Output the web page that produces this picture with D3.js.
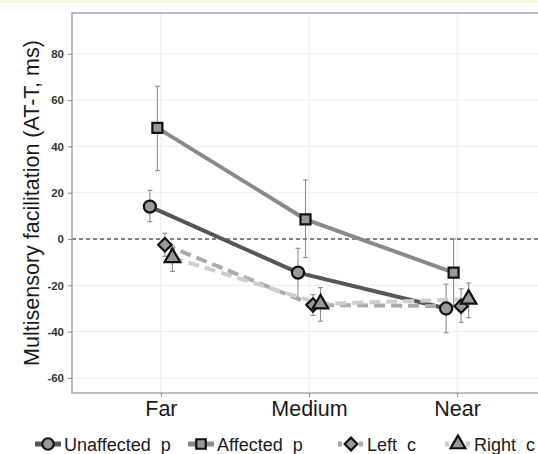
<!DOCTYPE html>
<html lang="en">

<head>
    <meta charset="utf-8">
    <script src='https://d3js.org/d3.v7.min.js'></script>
    <style>
        body { margin: 0; background: #fff; }
        text { font-family: "Liberation Sans", Arial, sans-serif; }
    </style>
</head>

<body>

    <script>

        // data
        const categories = ["Far", "Medium", "Near"];
        const seriesNames = ["Unaffected_p", "Affected_p", "Left_c", "Right_c"];

        const unaffectedMean = [14, -14.5, -30];
        const unaffectedLow = [7.5, -25.5, -40.5];
        const unaffectedHigh = [21, -4, -19.5];

        const affectedMean = [48, 8.5, -14.5];
        const affectedLow = [29.5, -8, -29];
        const affectedHigh = [66, 25.5, 0];

        const leftMean = [-2.5, -28.5, -29];
        const leftLow = [-7.5, -33, -36];
        const leftHigh = [2.5, -24, -21.5];

        const rightMean = [-8, -28, -26];
        const rightLow = [-14, -35.5, -34];
        const rightHigh = [-3, -21, -19];

        const yTicks = [-60, -40, -20, 0, 20, 40, 60, 80];

        const width = 538, height = 454;
        const panel = { left: 72, top: 13, right: 546, bottom: 393 };

        const svg = d3.select("body")
            .append("svg")
            .attr("width", width)
            .attr("height", height);

        // thin yellow strip at the very top of the image
        svg.append("rect")
            .attr("x", 0).attr("y", 0)
            .attr("width", width).attr("height", 3)
            .attr("fill", "#fcf5df");

        var x = d3.scalePoint()
            .domain(categories)
            .range([panel.left, panel.right])
            .padding(0.6);

        var dodge = d3.scalePoint()
            .domain(seriesNames)
            .range([-11, 11.5]);

        var y = d3.scaleLinear()
            .domain([-66.5, 97.6])
            .range([panel.bottom, panel.top]);

        // diamond as a square turned 45 degrees (d3's own diamond is too tall)
        var diamond = {
            draw: function (context, size) {
                var r = Math.sqrt(size / 2);
                context.moveTo(0, -r);
                context.lineTo(r, 0);
                context.lineTo(0, r);
                context.lineTo(-r, 0);
                context.closePath();
            }
        };

        var series = [
            { name: "Unaffected_p", mean: unaffectedMean, low: unaffectedLow, high: unaffectedHigh,
              color: "#575757", dash: null, shape: d3.symbolCircle, size: 115 },
            { name: "Affected_p", mean: affectedMean, low: affectedLow, high: affectedHigh,
              color: "#8a8a8a", dash: null, shape: d3.symbolSquare, size: 100 },
            { name: "Left_c", mean: leftMean, low: leftLow, high: leftHigh,
              color: "#ababab", dash: "11,6", shape: diamond, size: 90 },
            { name: "Right_c", mean: rightMean, low: rightLow, high: rightHigh,
              color: "#cdcdcd", dash: "11,6", shape: d3.symbolTriangle, size: 105 }
        ];

        svg.append("clipPath").attr("id", "panel-clip")
            .append("rect")
            .attr("x", panel.left).attr("y", panel.top)
            .attr("width", panel.right - panel.left)
            .attr("height", panel.bottom - panel.top);

        // grid
        svg.append("g")
            .selectAll("line")
            .data(yTicks)
            .enter()
            .append("line")
            .attr("x1", panel.left).attr("x2", panel.right)
            .attr("y1", d => y(d)).attr("y2", d => y(d))
            .attr("stroke", "#ececec")
            .attr("stroke-width", 1);

        svg.append("g")
            .selectAll("line")
            .data(categories)
            .enter()
            .append("line")
            .attr("x1", d => x(d)).attr("x2", d => x(d))
            .attr("y1", panel.top).attr("y2", panel.bottom)
            .attr("stroke", "#ececec")
            .attr("stroke-width", 1);

        // zero reference
        svg.append("line")
            .attr("x1", panel.left).attr("x2", panel.right)
            .attr("y1", y(0)).attr("y2", y(0))
            .attr("stroke", "#111")
            .attr("stroke-width", 1)
            .attr("stroke-dasharray", "4,3");

        var plot = svg.append("g").attr("clip-path", "url(#panel-clip)");

        function px(s, i) { return x(categories[i]) + dodge(s.name); }

        // error bars
        series.forEach(function (s) {
            var g = plot.append("g")
                .attr("stroke", "#8c8c8c")
                .attr("stroke-width", 1.1);
            g.selectAll(".v")
                .data(categories)
                .enter()
                .append("line")
                .attr("x1", (d, i) => px(s, i)).attr("x2", (d, i) => px(s, i))
                .attr("y1", (d, i) => y(s.low[i])).attr("y2", (d, i) => y(s.high[i]));
            ["low", "high"].forEach(function (k) {
                g.selectAll(".c" + k)
                    .data(categories)
                    .enter()
                    .append("line")
                    .attr("x1", (d, i) => px(s, i) - 2.5).attr("x2", (d, i) => px(s, i) + 2.5)
                    .attr("y1", (d, i) => y(s[k][i])).attr("y2", (d, i) => y(s[k][i]));
            });
        });

        // lines
        var line = d3.line();
        series.forEach(function (s) {
            plot.append("path")
                .attr("d", line(categories.map((c, i) => [px(s, i), y(s.mean[i])])))
                .attr("fill", "none")
                .attr("stroke", s.color)
                .attr("stroke-width", 4)
                .attr("stroke-dasharray", s.dash);
        });

        // points
        series.forEach(function (s) {
            plot.append("g")
                .selectAll("path")
                .data(categories)
                .enter()
                .append("path")
                .attr("transform", (d, i) => "translate(" + px(s, i) + "," + y(s.mean[i]) + ")")
                .attr("d", d3.symbol().type(s.shape).size(s.size))
                .attr("fill", "#999")
                .attr("stroke", "#111")
                .attr("stroke-width", 2.2);
        });

        // panel border
        svg.append("rect")
            .attr("x", panel.left).attr("y", panel.top)
            .attr("width", panel.right - panel.left)
            .attr("height", panel.bottom - panel.top)
            .attr("fill", "none")
            .attr("stroke", "#9a9a9a")
            .attr("stroke-width", 1.3);

        // axes
        var yAxis = svg.append("g")
            .attr("transform", "translate(" + panel.left + ",0)")
            .call(d3.axisLeft(y).tickValues(yTicks).tickSize(4).tickPadding(4)
                .tickFormat(d => String(d)));
        yAxis.select(".domain").remove();
        yAxis.selectAll("line").attr("stroke", "#888");
        yAxis.selectAll("text")
            .attr("font-size", 11.5)
            .attr("font-weight", "bold")
            .attr("fill", "#333");

        var xAxis = svg.append("g")
            .attr("transform", "translate(0," + panel.bottom + ")")
            .call(d3.axisBottom(x).tickSize(4).tickPadding(4));
        xAxis.select(".domain").remove();
        xAxis.selectAll("line").attr("stroke", "#888");
        xAxis.selectAll("text")
            .attr("font-size", 21.5)
            .attr("fill", "#1a1a1a");

        svg.append("text")
            .attr("transform", "translate(39," + ((panel.top + panel.bottom) / 2) + ") rotate(-90)")
            .attr("text-anchor", "middle")
            .attr("font-size", 21.5)
            .attr("fill", "#1a1a1a")
            .text("Multisensory facilitation (AT-T, ms)");

        // legend
        var legendX = [35, 188, 338, 445];
        var legendY = 444;
        series.forEach(function (s, i) {
            var g = svg.append("g").attr("transform", "translate(" + legendX[i] + "," + legendY + ")");
            g.append("line")
                .attr("x1", 0).attr("x2", 26)
                .attr("y1", 0).attr("y2", 0)
                .attr("stroke", s.color)
                .attr("stroke-width", 5)
                .attr("stroke-dasharray", s.dash ? "4,3" : null);
            g.append("path")
                .attr("transform", "translate(13,0)")
                .attr("d", d3.symbol().type(s.shape).size(s.size * 0.9))
                .attr("fill", "#999")
                .attr("stroke", "#111")
                .attr("stroke-width", 2.2);
            g.append("text")
                .attr("x", 29)
                .attr("y", 7)
                .attr("font-size", 18)
                .attr("fill", "#1a1a1a")
                .text(s.name);
        });

    </script>

</body>

</html>
